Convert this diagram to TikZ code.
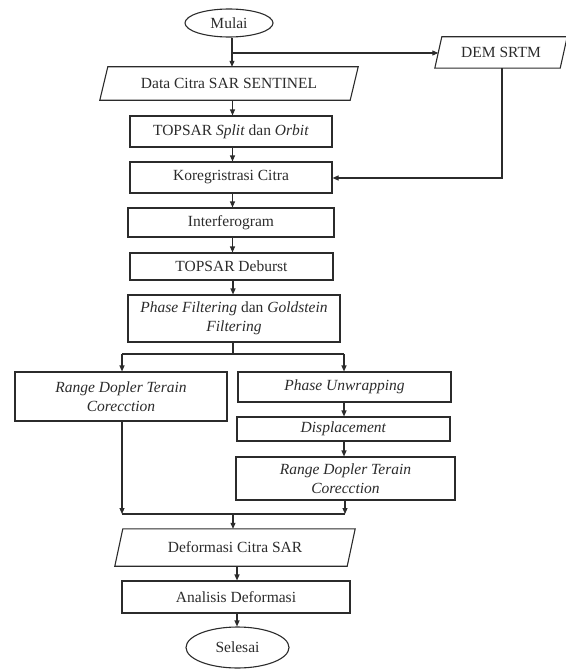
\documentclass[tikz,border=0pt]{standalone}
\usepackage{fontspec}
\setmainfont{Liberation Serif}
\usetikzlibrary{shapes.geometric,arrows.meta}
\definecolor{ink}{HTML}{2B2B2B}
\begin{document}
\begin{tikzpicture}[x=1pt,y=-1pt,
  every node/.style={font=\fontsize{15.5}{19}\selectfont, text=ink, inner sep=0pt, align=center},
  box/.style={draw=ink, line width=1.1pt, rectangle},
  term/.style={draw=ink, line width=1.1pt, ellipse},
  io/.style={rectangle},
  ln/.style={draw=ink, line width=1.1pt},
  arr/.style={draw=ink, line width=1.1pt, -{Triangle[length=6pt,width=5pt]}}]
\useasboundingbox (0,0) rectangle (565,669);

% nodes
\node[term, minimum width=88pt, minimum height=28pt] (mulai) at (229,23) {Mulai};
\node[io, minimum width=250pt, minimum height=33pt] (data) at (229,83.5) {Data Citra SAR SENTINEL};
\node[io, minimum width=125pt, minimum height=31pt] (dem) at (501,52.5) {DEM SRTM};
\node[box, minimum width=202pt, minimum height=31pt] (topsar) at (231,131.5) {TOPSAR \textit{Split} dan \textit{Orbit}};
\node[box, minimum width=202pt, minimum height=31pt] (koreg) at (231,177.5) {Koregristrasi Citra};
\node[box, minimum width=206pt, minimum height=29pt] (interf) at (231,222.5) {Interferogram};
\node[box, minimum width=203pt, minimum height=27pt] (deburst) at (231.5,266.5) {TOPSAR Deburst};
\node[box, minimum width=212pt, minimum height=47pt] (phase) at (234,318.5) {\textit{Phase Filtering} dan \textit{Goldstein}\\\textit{Filtering}};
\node[box, minimum width=212pt, minimum height=49pt] (rdl) at (121,396.5) {\textit{Range Dopler Terain}\\\textit{Corecction}};
\node[box, minimum width=213pt, minimum height=30pt] (unwrap) at (344.5,387) {\textit{Phase Unwrapping}};
\node[box, minimum width=213pt, minimum height=24pt] (displ) at (343.5,429) {\textit{Displacement}};
\node[box, minimum width=219pt, minimum height=43pt] (rdr) at (345.5,478.5) {\textit{Range Dopler Terain}\\\textit{Corecction}};
\node[io, minimum width=232pt, minimum height=37pt] (deform) at (235,547.5) {Deformasi Citra SAR};
\node[box, minimum width=228pt, minimum height=32pt] (analisis) at (236,597) {Analisis Deformasi};
\node[term, minimum width=103pt, minimum height=41pt] (selesai) at (237.5,647.5) {Selesai};

% parallelogram outlines
\draw[ln] ([xshift=-4pt]data.south west) -- ([xshift=4pt]data.north west) -- ([xshift=4pt]data.north east) -- ([xshift=-4pt]data.south east) -- cycle;
\draw[ln] ([xshift=-3.5pt]dem.south west) -- ([xshift=3.5pt]dem.north west) -- ([xshift=3.5pt]dem.north east) -- ([xshift=-3.5pt]dem.south east) -- cycle;
\draw[ln] ([xshift=-4pt]deform.south west) -- ([xshift=4pt]deform.north west) -- ([xshift=4pt]deform.north east) -- ([xshift=-4pt]deform.south east) -- cycle;

% helper coordinates
\coordinate (c1) at (232.5,0);
\coordinate (b1) at (232,53);
\coordinate (dk) at (502,178);
\coordinate (b2) at (233,354);
\coordinate (bl) at (122,354);
\coordinate (br) at (344,354);
\coordinate (ml) at (122,514);
\coordinate (mr) at (345,514);
\coordinate (mm) at (233,514);
\coordinate (c2) at (237,0);

% connectors
\draw[arr] (mulai.south -| b1) -- (data.north -| b1);
\draw[arr] (b1) -- (dem.west |- b1);
\draw[arr] (data.south -| c1) -- (topsar.north -| c1);
\draw[arr] (topsar.south -| c1) -- (koreg.north -| c1);
\draw[arr] (dem.south -| dk) -- (dk) -- (koreg.east |- dk);
\draw[arr] (koreg.south -| c1) -- (interf.north -| c1);
\draw[arr] (interf.south -| c1) -- (deburst.north -| c1);
\draw[arr] (deburst.south -| b2) -- (phase.north -| b2);
\draw[ln] (phase.south -| b2) -- (b2);
\draw[ln] (bl) -- (br);
\draw[arr] (bl) -- (rdl.north -| bl);
\draw[arr] (br) -- (unwrap.north -| br);
\draw[arr] (unwrap.south -| br) -- (displ.north -| br);
\draw[arr] (displ.south -| br) -- (rdr.north -| br);
\draw[arr] (rdl.south -| ml) -- (ml);
\draw[arr] (rdr.south -| mr) -- (mr);
\draw[ln] (ml) -- (mr);
\draw[arr] (mm) -- (deform.north -| mm);
\draw[arr] (deform.south -| c2) -- (analisis.north -| c2);
\draw[arr] (analisis.south -| c2) -- (selesai.north -| c2);
\end{tikzpicture}
\end{document}
